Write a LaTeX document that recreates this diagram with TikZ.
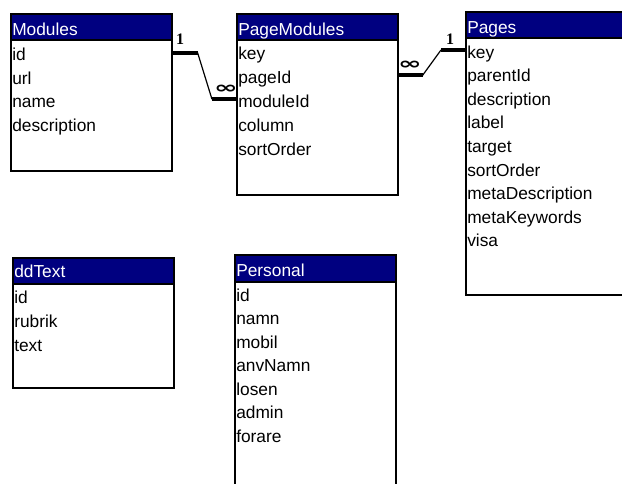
\documentclass[tikz,border=0pt]{standalone}
\usepackage{fontspec}
\setmainfont{Liberation Sans}
\newfontfamily\symfont{DejaVu Sans}
\newfontfamily\onefont{Liberation Serif}
\definecolor{hdr}{RGB}{0,0,128}
\begin{document}
\begin{tikzpicture}[x=0.75pt,y=-0.75pt,
  border/.style={draw=black,line width=1pt},
  hdrfill/.style={fill=hdr},
  field/.style={anchor=base west,inner xsep=0.75pt,inner ysep=0pt,
    text width=119.25pt,align=left,text height=12pt,text depth=0pt,
    font=\fontsize{13}{14}\selectfont},
  title/.style={field,text=white},
  link/.style={line width=3pt,line cap=butt},
  slant/.style={line width=0.9pt},
  onelbl/.style={font=\onefont\bfseries\fontsize{12}{12}\selectfont,inner sep=0pt},
  manylbl/.style={font=\symfont\bfseries\fontsize{12.5}{12}\selectfont,inner sep=0pt}]
\useasboundingbox (0,0) rectangle (622,483);
\clip (0,0) rectangle (622,483);

% Modules
\fill[hdrfill] (11,14) rectangle (172,40);
\draw[border] (11,14) rectangle (172,171);
\draw[border] (11,40) -- (172,40);
\node[title] (modules) at (11,35) {Modules};
\foreach \f [count=\i] in {id,url,name,description}
  \node[field] (m-\f) at ({11},{60.5+(\i-1)*23.7}) {\f};

% PageModules
\fill[hdrfill] (237,14) rectangle (398,40);
\draw[border] (237,14) rectangle (398,195);
\draw[border] (237,40) -- (398,40);
\node[title] (pagemodules) at (237,35) {PageModules};
\foreach \f [count=\i] in {key,pageId,moduleId,column,sortOrder}
  \node[field] (pm-\f) at ({237},{59.5+(\i-1)*23.9}) {\f};

% Pages
\fill[hdrfill] (466,12) rectangle (630,38);
\draw[border] (466,12) rectangle (630,295);
\draw[border] (466,38) -- (630,38);
\node[title] (pages) at (466,33) {Pages};
\foreach \f [count=\i] in {key,parentId,description,label,target,sortOrder,metaDescription,metaKeywords,visa}
  \node[field] (p-\f) at ({466},{58+(\i-1)*23.6}) {\f};

% ddText
\fill[hdrfill] (13,258) rectangle (174,284);
\draw[border] (13,258) rectangle (174,388);
\draw[border] (13,284) -- (174,284);
\node[title] (ddtext) at (13,277) {ddText};
\foreach \f [count=\i] in {id,rubrik,text}
  \node[field] (d-\f) at ({13},{303+(\i-1)*24}) {\f};

% Personal
\fill[hdrfill] (235,255) rectangle (396,282);
\draw[border] (235,255) rectangle (396,500);
\draw[border] (235,282) -- (396,282);
\node[title] (personal) at (235,276) {Personal};
\foreach \f [count=\i] in {id,namn,mobil,anvNamn,losen,admin,forare}
  \node[field] (ps-\f) at ({235},{301+(\i-1)*23.5}) {\f};

% Modules.id 1 -- many PageModules.moduleId
\draw[link] (m-id.east) -- ++(25,0) coordinate (r1a);
\draw[link] (pm-moduleId.west) -- ++(-25,0) coordinate (r1b);
\draw[slant] (r1a) -- (r1b);
\node[onelbl] (r1one) at (180,39.5) {1};
\node[manylbl] (r1many) at (226,89.5) {\scalebox{1.7}[1]{∞}};

% Pages.key 1 -- many PageModules.pageId
\draw[link] (pm-pageId.east) -- ++(24,0) coordinate (r2a);
\draw[link] (p-key.west) -- ++(-25,0) coordinate (r2b);
\draw[slant] (r2a) -- (r2b);
\node[onelbl] (r2one) at (450,39) {1};
\node[manylbl] (r2many) at (410,65) {\scalebox{1.7}[1]{∞}};
\end{tikzpicture}
\end{document}
